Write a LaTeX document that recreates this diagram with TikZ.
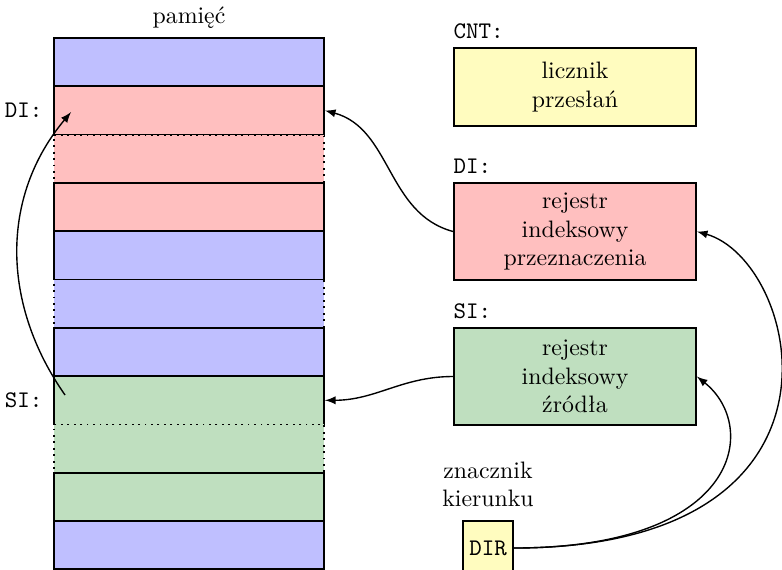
\documentclass[tikz,border=0pt]{standalone}
\usepackage{fontspec}
\usetikzlibrary{positioning}

\colorlet{memblue}{blue!25}
\colorlet{memred}{red!25}
\colorlet{memgreen}{green!50!black!25}
\colorlet{memyellow}{yellow!25}

\tikzset{
	cell/.style = {draw, thick, inner sep=0pt, minimum width=117.4pt, minimum height=21pt},
	reg/.style = {draw, thick, align=center, minimum width=105.2pt, minimum height=42.2pt},
	conn/.style = {->, >=latex, semithick},
}

\begin{document}
\fontsize{10.35}{12.5}\selectfont
\begin{tikzpicture}[x=0.4348pt, y=0.4348pt]
		\useasboundingbox (0,0) rectangle (782,569);
		\clip (0,0) rectangle (782,569);
		% pamięć
		\foreach \i/\c/\s in {1/memblue/solid, 2/memred/solid, 3/memred/dotted,
			4/memred/solid, 5/memblue/solid, 6/memblue/dotted, 7/memblue/solid,
			8/memgreen/solid, 9/memgreen/dotted, 10/memgreen/solid, 11/memblue/solid}
		\node [cell, fill=\c, \s] (mem\i) at (189, {506.8-48.3*(\i-1)}) {};
		\node [above=0pt of mem1] (memlbl) {pamięć};
		\node [left=1pt of mem2, font=\ttfamily] (dimem) {DI:};
		\node [left=1pt of mem8, font=\ttfamily] (simem) {SI:};
		% rejestry
		\node [reg, fill=memyellow, minimum height=33.9pt] (cnt) at (575,482) {licznik\\przesłań};
		\node [reg, fill=memred] (di) at (575,337.5) {rejestr\\indeksowy\\przeznaczenia};
		\node [reg, fill=memgreen] (si) at (575,192.5) {rejestr\\indeksowy\\źródła};
		\node [anchor=south west, inner xsep=0pt, font=\ttfamily] (cntlbl) at (cnt.north west) {CNT:};
		\node [anchor=south west, inner xsep=0pt, font=\ttfamily] (dilbl) at (di.north west) {DI:};
		\node [anchor=south west, inner xsep=0pt, font=\ttfamily] (silbl) at (si.north west) {SI:};
		% znacznik kierunku
		\node [draw, thick, fill=memyellow, font=\ttfamily, inner xsep=2.5pt,
			minimum width=21.7pt, minimum height=23.5pt] (dir) at (488,21) {DIR};
		\node [above=2pt of dir, align=center] (dirlbl) {znacznik\\kierunku};
		% strzałki
		\draw [conn] (di.west) to [out=165, in=-15] (mem2.east);
		\draw [conn] (si.west) to [out=180, in=0] (mem8.east);
		\draw [conn] ([xshift=5.2pt, yshift=2.3pt]mem8.west)
		to [out=125, in=-130] ([xshift=7.8pt, yshift=-0.7pt]mem2.west);
		\draw [conn] (dir.east) .. controls +(357,0) and +(103,-29) .. (di.east);
		\draw [conn] (dir.east) .. controls +(227,0) and +(63,-50) .. (si.east);
	\end{tikzpicture}
\end{document}
